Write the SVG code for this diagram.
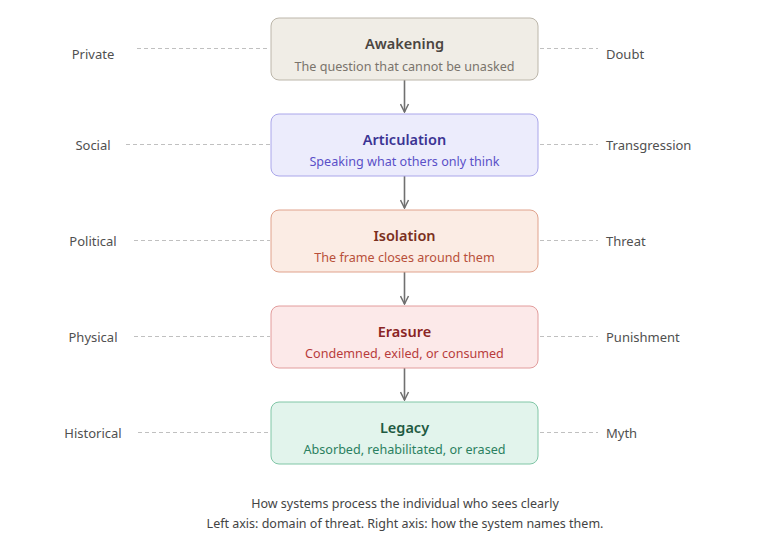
<svg xmlns="http://www.w3.org/2000/svg" width="768" height="560" viewBox="0 0 768 560">
<defs>
<marker id="arr" viewBox="0 0 10 10" refX="9" refY="5" markerWidth="10" markerHeight="10" markerUnits="userSpaceOnUse" orient="auto">
<path d="M1,1 L9,5 L1,9" fill="none" stroke="#707070" stroke-width="1.5"/>
</marker>
<style>
text{font-family:"Noto Sans","Open Sans","Liberation Sans",sans-serif}
.t{font-size:14.5px;font-weight:600;text-anchor:middle}
.s{font-size:12.6px;text-anchor:middle}
.l{font-size:13px;fill:#505050;text-anchor:middle}
.r{font-size:13px;fill:#505050}
.d{stroke:#c0c0c0;stroke-width:1;stroke-dasharray:4 3;fill:none}
.c{stroke:#707070;stroke-width:1.6;fill:none}
.cap{font-size:12.5px;fill:#444;text-anchor:middle}
</style>
</defs>
<rect width="768" height="560" fill="#fff"/>
<g id="connectors">
<line class="c" x1="404.5" y1="80" x2="404.5" y2="112" marker-end="url(#arr)"/>
<line class="c" x1="404.5" y1="176" x2="404.5" y2="208" marker-end="url(#arr)"/>
<line class="c" x1="404.5" y1="272" x2="404.5" y2="304" marker-end="url(#arr)"/>
<line class="c" x1="404.5" y1="368" x2="404.5" y2="400" marker-end="url(#arr)"/>
<line class="d" x1="137" y1="48.5" x2="270" y2="48.5"/>
<line class="d" x1="540" y1="48.5" x2="598" y2="48.5"/>
<line class="d" x1="126" y1="144.5" x2="270" y2="144.5"/>
<line class="d" x1="540" y1="144.5" x2="598" y2="144.5"/>
<line class="d" x1="134" y1="240.5" x2="270" y2="240.5"/>
<line class="d" x1="540" y1="240.5" x2="598" y2="240.5"/>
<line class="d" x1="134" y1="336.5" x2="270" y2="336.5"/>
<line class="d" x1="540" y1="336.5" x2="598" y2="336.5"/>
<line class="d" x1="138" y1="432.5" x2="270" y2="432.5"/>
<line class="d" x1="540" y1="432.5" x2="598" y2="432.5"/>
</g>
<g id="awakening">
<rect x="271" y="18" width="267" height="62" rx="8" fill="#f0ede6" stroke="#bcb6aa"/>
<text class="t" x="404.5" y="49" fill="#4a4540">Awakening</text>
<text class="s" x="404.5" y="71" fill="#7a746c">The question that cannot be unasked</text>
</g>
<g id="articulation">
<rect x="271" y="114" width="267" height="62" rx="8" fill="#ececfc" stroke="#aaa6ea"/>
<text class="t" x="404.5" y="145" fill="#3b3494">Articulation</text>
<text class="s" x="404.5" y="166" fill="#5a50c8">Speaking what others only think</text>
</g>
<g id="isolation">
<rect x="271" y="210" width="267" height="62" rx="8" fill="#fbece4" stroke="#e0a28c"/>
<text class="t" x="404.5" y="241" fill="#7a3020">Isolation</text>
<text class="s" x="404.5" y="262" fill="#b8503a">The frame closes around them</text>
</g>
<g id="erasure">
<rect x="271" y="306" width="267" height="62" rx="8" fill="#fce9e9" stroke="#e29c9c"/>
<text class="t" x="404.5" y="337" fill="#8a2424">Erasure</text>
<text class="s" x="404.5" y="358" fill="#b83c3c">Condemned, exiled, or consumed</text>
</g>
<g id="legacy">
<rect x="271" y="402" width="267" height="62" rx="8" fill="#e2f4ec" stroke="#80c6a6"/>
<text class="t" x="404.5" y="433" fill="#1e5a42">Legacy</text>
<text class="s" x="404.5" y="454" fill="#2a8060">Absorbed, rehabilitated, or erased</text>
</g>
<g id="left-axis">
<text class="l" x="93" y="59">Private</text>
<text class="l" x="93" y="150">Social</text>
<text class="l" x="93" y="246">Political</text>
<text class="l" x="93" y="342">Physical</text>
<text class="l" x="93" y="438">Historical</text>
</g>
<g id="right-axis">
<text class="r" x="606" y="59">Doubt</text>
<text class="r" x="606" y="150">Transgression</text>
<text class="r" x="606" y="246">Threat</text>
<text class="r" x="606" y="342">Punishment</text>
<text class="r" x="606" y="438">Myth</text>
</g>
<g id="caption">
<text class="cap" x="405" y="508">How systems process the individual who sees clearly</text>
<text class="cap" x="405" y="528">Left axis: domain of threat. Right axis: how the system names them.</text>
</g>
</svg>
